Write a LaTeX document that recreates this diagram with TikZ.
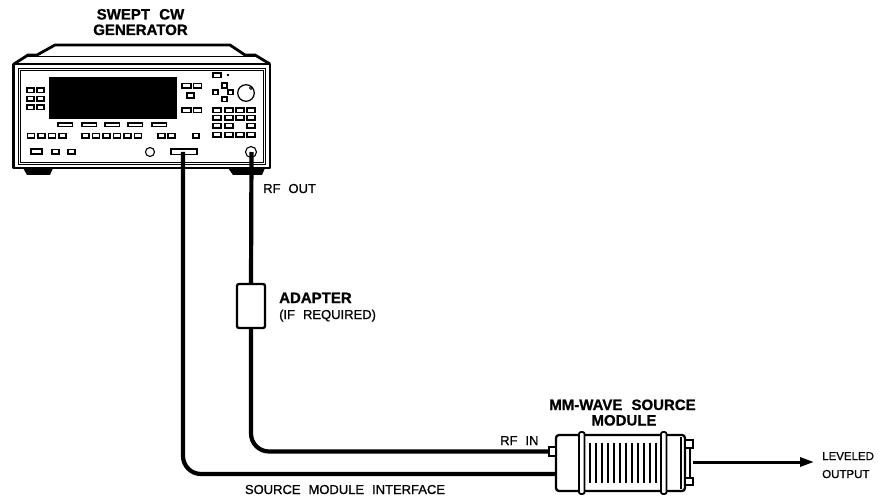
\documentclass[tikz,border=0pt]{standalone}
\usepackage{fontspec}
\setmainfont{Liberation Sans}
\newfontfamily\plotfont[FakeBold=0.9]{Liberation Sans}
\usetikzlibrary{arrows.meta}
\tikzset{
  key/.style={draw, line width=1.1pt},
  frame/.style={draw, line width=2.8pt, line join=round},
  thin/.style={draw, line width=0.9pt},
  cable/.style={draw, line width=4.2pt, rounded corners=18pt},
  lbl/.style={inner sep=0pt, font=\plotfont\fontsize{13}{15}\selectfont},
  blbl/.style={inner sep=0pt, font=\plotfont\fontsize{15}{17}\selectfont\bfseries},
  small/.style={inner sep=0pt, font=\plotfont\fontsize{11.5}{13}\selectfont},
}
\begin{document}
\begin{tikzpicture}[x=1pt,y=-1pt]
\useasboundingbox (0,0) rectangle (883,497);
% ---------- title
\node[blbl, anchor=base] (t1) at (140.5,19.5) {SWEPT\,\, CW};
\node[blbl, anchor=base] (t2) at (140.5,35) {GENERATOR};
% ---------- instrument body
\draw[frame] (14,64) -- (28,55) -- (37,55) -- (55,45) -- (230,45) -- (245,55) -- (255,55) -- (270,64);
\draw[thin] (28,56.5) -- (255,56.5);
% feet
\fill (23,168) -- (53,168) -- (50,175) -- (27,175) -- cycle;
\fill (228,168) -- (265,168) -- (262,175) -- (233,175) -- cycle;
\draw[frame] (13.5,64) rectangle (270,168);
\draw[thin] (18,68) rectangle (265.5,164);
\draw[line width=0.6pt] (20,70) rectangle (263.5,162);
% display
\fill (49,77) rectangle (177,119);
% left keys
\foreach \y in {88,96.5,105}{
  \draw[key] (27,\y) rectangle +(7,4.5);
  \draw[key] (37,\y) rectangle +(7,4.5);
}
% softkeys
\foreach \x in {58,82,105,128,152}{
  \draw[key] (\x,123) rectangle +(14.5,3.5);
}
% key row
\foreach \x in {27.5,38,48.5,59}{ \draw[key] (\x,133.5) rectangle +(7,4.5); }
\foreach \x in {82,92.5,103,113.5,124,134.5}{ \draw[key] (\x,133.5) rectangle +(7,4.5); }
\foreach \x in {158,168}{ \draw[key] (\x,133.5) rectangle +(7,4.5); }
\draw[key] (193,133.5) rectangle +(6,4.5);
% bottom row
\draw[key] (31,149) rectangle (42,154);
\draw[key] (52,149.5) rectangle (59,154);
\draw[key] (68,149.5) rectangle (75,154);
\draw[key] (150,152) circle (4.5);
\draw[key] (171,149) rectangle (197,154.5);
\draw[key] (251,152) circle (5.5);
% keys right of display
\draw[key] (182,83.5) rectangle (191,88);
\draw[key] (193.5,83.5) rectangle (201.5,88);
\draw[key] (187,93) rectangle (194,98);
\draw[key] (182,108) rectangle (191,112.5);
\draw[key] (193.5,108) rectangle (201.5,112.5);
% nav cluster
\draw[key] (213,73) rectangle (221,77.5);
\fill (228,75) circle (1.3);
\draw[key] (222,83) rectangle (227,88);
\draw[key] (213,90) rectangle (218,94.5);
\draw[key] (228,90) rectangle (233,94.5);
\draw[key] (222,97) rectangle (227,101.5);
\draw[line width=1.2pt] (246,93) circle (8.3);
\draw[line width=0.9pt] (251,88) circle (1.6);
% keypad
\foreach \x in {213,225,236,247}{
  \draw[key] (\x,108) rectangle +(8,4.5);
  \draw[key] (\x,115.5) rectangle +(8,4.5);
  \draw[key] (\x,132.5) rectangle +(8,4.5);
}
\foreach \x in {213,225,247}{ \draw[key] (\x,123.5) rectangle +(8,4.5); }
% instrument connectors
\coordinate (smi) at (183,152);
\coordinate (rfout) at (251.5,152);
% ---------- adapter
\node[draw, line width=2.3pt, rounded corners=2pt, minimum width=28pt, minimum height=44pt, inner sep=0pt, outer sep=0pt] (adapter) at (251,306) {};
% ---------- module
\node[draw, line width=2.3pt, rounded corners=3pt, minimum width=129pt, minimum height=56pt, inner sep=0pt, outer sep=0pt, fill=white] (mod) at (620.5,463) {};
\foreach \x in {590,596,602,608,614,620,626,632,638,644,650,656}{
  \draw[line width=1.3pt] (\x,443) -- (\x,483);
}
\draw[line width=1.8pt, fill=white, rounded corners=2pt] (579,432) rectangle (584.5,494);
\draw[line width=1.8pt, fill=white, rounded corners=2pt] (661,432) rectangle (666.5,494);
\draw[line width=1.5pt] (681,437) -- (681,489);
\node[draw, line width=2.2pt, fill=white, minimum width=7pt, minimum height=9pt, inner sep=0pt, outer sep=0pt] (rfin) at (552.5,451.5) {};
\draw[line width=2pt, fill=white] (685,440) rectangle (693,447.5);
\draw[line width=2pt, fill=white] (685,477.5) rectangle (693,485);
\draw[line width=1.6pt] (690,447.5) -- (690,477.5);
\coordinate (smiin) at (556,474);
\coordinate (modout) at (693,462);
\coordinate (outtip) at (814,462);
% ---------- cables
\draw[cable] (smi) |- (smiin);
\draw[cable] (rfout) -- (adapter.north);
\draw[cable] (adapter.south) |- (rfin.west);
\draw[line width=3pt, -{Triangle[length=14pt,width=9pt]}] (modout) -- (outtip);
% ---------- labels
\node[lbl, anchor=base west] (rfoutl) at (263,193) {RF\,\, OUT};
\node[blbl, anchor=base west] (adl) at (279,303) {ADAPTER};
\node[lbl, anchor=base west] (adl2) at (279,319) {(IF\,\, REQUIRED)};
\node[blbl, anchor=base] (ml1) at (622.5,410) {MM-WAVE\,\, SOURCE};
\node[blbl, anchor=base] (ml2) at (624,425.5) {MODULE};
\node[lbl, anchor=base west] (rfinl) at (500,445) {RF\,\, IN};
\node[lbl, anchor=base] (smil) at (345,494) {SOURCE\,\, MODULE\,\, INTERFACE};
\node[small, anchor=base west] (lev1) at (822,460) {LEVELED};
\node[small, anchor=base west] (lev2) at (822,478) {OUTPUT};
\end{tikzpicture}
\end{document}
